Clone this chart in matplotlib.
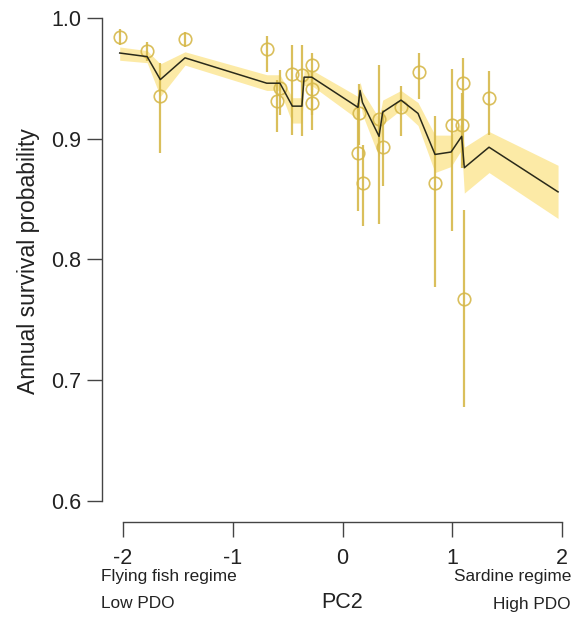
import numpy as np
import matplotlib
matplotlib.use('Agg')
import matplotlib.pyplot as plt

plt.rcParams['font.family'] = ['Liberation Sans', 'DejaVu Sans']
plt.rcParams['axes.unicode_minus'] = False

# fitted survival along PC2, with its band
fit_x = [-2.03, -1.78, -1.66, -1.435, -0.69, -0.57, -0.457, -0.37, -0.35, -0.28,
         0.141, 0.16, 0.182, 0.333, 0.366, 0.533, 0.688, 0.843, 0.989, 1.086,
         1.11, 1.335, 1.964]
fit_y = [0.971, 0.968, 0.949, 0.967, 0.946, 0.946, 0.927, 0.927, 0.951, 0.951,
         0.926, 0.940, 0.930, 0.902, 0.922, 0.932, 0.921, 0.887, 0.889, 0.902,
         0.876, 0.893, 0.856]
fit_hi = [0.976, 0.973, 0.962, 0.972, 0.953, 0.953, 0.934, 0.934, 0.957, 0.957,
          0.935, 0.947, 0.939, 0.917, 0.932, 0.940, 0.930, 0.903, 0.903, 0.913,
          0.893, 0.906, 0.878]
fit_lo = [0.965, 0.963, 0.935, 0.961, 0.940, 0.940, 0.913, 0.913, 0.944, 0.944,
          0.916, 0.932, 0.920, 0.885, 0.912, 0.924, 0.911, 0.872, 0.877, 0.891,
          0.855, 0.872, 0.834]

# yearly estimates with intervals
obs_x = [-2.03, -1.78, -1.66, -1.435, -0.69, -0.60, -0.57, -0.46, -0.37, -0.28,
         -0.28, -0.28, 0.15, 0.14, 0.19, 0.33, 0.37, 0.533, 0.697, 0.843,
         0.998, 1.089, 1.098, 1.107, 1.335]
obs_y = [0.984, 0.973, 0.935, 0.983, 0.974, 0.931, 0.942, 0.954, 0.953, 0.961,
         0.941, 0.930, 0.921, 0.888, 0.863, 0.916, 0.893, 0.926, 0.955, 0.863,
         0.911, 0.911, 0.946, 0.767, 0.934]
obs_hi = [0.991, 0.980, 0.963, 0.988, 0.985, 0.949, 0.957, 0.978, 0.978, 0.971,
          0.955, 0.945, 0.945, 0.930, 0.895, 0.961, 0.924, 0.944, 0.971, 0.919,
          0.958, 0.938, 0.967, 0.841, 0.956]
obs_lo = [0.978, 0.964, 0.888, 0.976, 0.955, 0.906, 0.920, 0.903, 0.902, 0.940,
          0.920, 0.907, 0.895, 0.840, 0.828, 0.829, 0.861, 0.902, 0.933, 0.777,
          0.824, 0.876, 0.878, 0.678, 0.903]

gold = '#D6B84A'

fig = plt.figure(figsize=(5.78, 6.18), dpi=100)
ax = fig.add_axes([102/578, 1 - 522/618, 476/578, 522/618])

ax.fill_between(fit_x, fit_lo, fit_hi, color='#FCEAA6', lw=0, zorder=1)
ax.plot(fit_x, fit_y, color='#2A2A1A', lw=1.1, zorder=3)

obs_x = np.array(obs_x); obs_y = np.array(obs_y)
yerr = [obs_y - np.array(obs_lo), np.array(obs_hi) - obs_y]
ax.errorbar(obs_x, obs_y, yerr=yerr, fmt='o', mfc='none', mec=gold, ms=9,
            mew=1.2, ecolor=gold, elinewidth=1.6, capsize=0, alpha=0.9,
            zorder=2, clip_on=False)

ax.set_xlim(-2 - 21/109.75, 2 + 16/109.75)
ax.set_ylim(0.6 - 21/1207.5, 1.0 + 18/1207.5)

ax.spines['top'].set_visible(False)
ax.spines['right'].set_visible(False)
ax.spines['left'].set_bounds(0.6, 1.0)
ax.spines['bottom'].set_bounds(-2, 2)
for s in ['left', 'bottom']:
    ax.spines[s].set_color('#444444')
    ax.spines[s].set_linewidth(1.0)

ax.set_yticks([0.6, 0.7, 0.8, 0.9, 1.0])
ax.set_yticklabels(['0.6', '0.7', '0.8', '0.9', '1.0'])
ax.set_xticks([-2, -1, 0, 1, 2])
ax.set_xticklabels(['-2', '-1', '0', '1', '2'])
ax.tick_params(axis='both', length=11, width=1.0, color='#444444',
               labelsize=15.5, labelcolor='#222222')
ax.tick_params(axis='y', pad=4)
ax.tick_params(axis='x', pad=8)

ax.set_ylabel('Annual survival probability', fontsize=16.5, color='#222222',
              labelpad=8)

fig.text(101/578, 1 - 577/618, 'Flying fish regime', fontsize=12.4,
         ha='left', va='center', color='#222222')
fig.text(101/578, 1 - 604/618, 'Low PDO', fontsize=12.4,
         ha='left', va='center', color='#222222')
fig.text(571/578, 1 - 577/618, 'Sardine regime', fontsize=12.4,
         ha='right', va='center', color='#222222')
fig.text(571/578, 1 - 604/618, 'High PDO', fontsize=12.4,
         ha='right', va='center', color='#222222')
fig.text(342/578, 1 - 602/618, 'PC2', fontsize=15.5,
         ha='center', va='center', color='#222222')

fig.savefig('out.png', dpi=100)
